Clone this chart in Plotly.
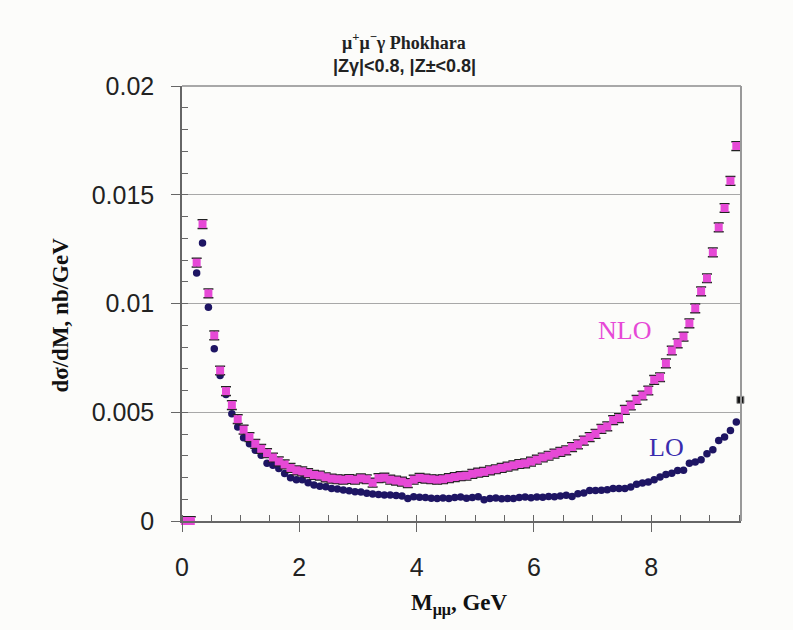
import numpy as np
import plotly.graph_objects as go

# Bin centres of the mu+mu- invariant mass, GeV (0.1 GeV bins)
mass_bins = np.round(np.arange(0.05, 9.5, 0.1), 2).tolist()

# dsigma/dM, nb/GeV, next-to-leading order
nlo = [
    0.0, 0.0, 0.01188, 0.01365, 0.01047, 0.00853, 0.00692, 0.00597, 0.00533, 0.00468,
    0.00420, 0.00386, 0.00355, 0.00332, 0.00312, 0.00292, 0.00274, 0.00260, 0.00244, 0.00233,
    0.00228, 0.00220, 0.00212, 0.00209, 0.00201, 0.00195, 0.00192, 0.00190, 0.00193, 0.00190,
    0.00196, 0.00192, 0.00176, 0.00197, 0.00199, 0.00190, 0.00186, 0.00181, 0.00174, 0.00190,
    0.00198, 0.00195, 0.00192, 0.00190, 0.00192, 0.00197, 0.00202, 0.00206, 0.00208, 0.00217,
    0.00222, 0.00226, 0.00233, 0.00238, 0.00244, 0.00250, 0.00256, 0.00262, 0.00265, 0.00273,
    0.00282, 0.00292, 0.00300, 0.00310, 0.00318, 0.00325, 0.00340, 0.00352, 0.00370, 0.00386,
    0.00401, 0.00424, 0.00435, 0.00464, 0.00473, 0.00511, 0.00531, 0.00557, 0.00577, 0.00600,
    0.00649, 0.00661, 0.00725, 0.00784, 0.00817, 0.00848, 0.00909, 0.00978, 0.01056, 0.01116,
    0.01235, 0.01350, 0.01439, 0.01564, 0.01724,
]

# dsigma/dM, nb/GeV, leading order
lo = [
    0.0, 0.0, 0.01140, 0.01278, 0.00983, 0.00792, 0.00669, 0.00582, 0.00493, 0.00432,
    0.00383, 0.00355, 0.00325, 0.00302, 0.00266, 0.00256, 0.00241, 0.00218, 0.00199, 0.00190,
    0.00190, 0.00176, 0.00165, 0.00160, 0.00158, 0.00150, 0.00147, 0.00143, 0.00139, 0.00134,
    0.00133, 0.00128, 0.00124, 0.00122, 0.00119, 0.00120, 0.00117, 0.00115, 0.00104, 0.00112,
    0.00109, 0.00108, 0.00105, 0.00103, 0.00106, 0.00104, 0.00108, 0.00110, 0.00105, 0.00108,
    0.00111, 0.00098, 0.00104, 0.00106, 0.00102, 0.00104, 0.00103, 0.00108, 0.00110, 0.00107,
    0.00110, 0.00109, 0.00113, 0.00112, 0.00115, 0.00118, 0.00113, 0.00125, 0.00129, 0.00140,
    0.00140, 0.00141, 0.00144, 0.00150, 0.00149, 0.00149, 0.00156, 0.00169, 0.00175, 0.00179,
    0.00190, 0.00202, 0.00214, 0.00220, 0.00232, 0.00233, 0.00266, 0.00271, 0.00282, 0.00309,
    0.00328, 0.00370, 0.00386, 0.00416, 0.00455,
]

# statistical error of the NLO points, nb/GeV
nlo_err = 0.0002

# stray marker at the right edge
edge_x = [9.52]
edge_y = [0.00557]

x_ticks = [0, 2, 4, 6, 8]
y_ticks = [0, 0.005, 0.01, 0.015, 0.02]

PINK = "#E649D6"
NAVY = "#1E1563"
BG = "#FCFCFA"

fig = go.Figure()

fig.add_trace(go.Scatter(
    x=mass_bins, y=lo, mode="markers", name="LO",
    marker=dict(symbol="circle", size=7.5, color=NAVY, line=dict(width=0)),
    cliponaxis=False,
))
fig.add_trace(go.Scatter(
    x=mass_bins, y=nlo, mode="markers", name="NLO",
    marker=dict(symbol="square", size=8, color=PINK, line=dict(width=0)),
    error_y=dict(type="constant", value=nlo_err, color="#222222", thickness=1.5, width=5),
    cliponaxis=False,
))
fig.add_trace(go.Scatter(
    x=edge_x, y=edge_y, mode="markers", name="edge",
    marker=dict(symbol="square", size=7, color="#111111", line=dict(width=1, color="#888888")),
    cliponaxis=False,
))

axis_font = dict(family="Liberation Sans, Arial, sans-serif", size=25, color="#222222")

fig.update_xaxes(
    range=[0, 9.53], tickvals=x_ticks, showgrid=False, zeroline=False,
    showline=True, linecolor="#666666", linewidth=1.5,
    ticks="outside", ticklen=9, tickwidth=1, tickcolor="#666666",
    minor=dict(dtick=0.5, ticks="inside", ticklen=6, tickwidth=1, tickcolor="#666666"),
    tickfont=axis_font, ticklabelstandoff=14,
)
fig.update_yaxes(
    range=[0, 0.02], tickvals=y_ticks, showgrid=True, gridcolor="#A8A8A8", gridwidth=1,
    zeroline=False, showline=True, linecolor="#666666", linewidth=1.5,
    ticks="outside", ticklen=9, tickwidth=1, tickcolor="#666666",
    minor=dict(dtick=0.001, ticks="inside", ticklen=6, tickwidth=1, tickcolor="#666666", showgrid=False),
    tickfont=axis_font, ticklabelstandoff=12,
)

# top and right frame
fig.add_shape(type="line", xref="paper", yref="paper", x0=0, x1=1, y0=1, y1=1,
              line=dict(color="#A8A8A8", width=2))
fig.add_shape(type="line", xref="paper", yref="paper", x0=1, x1=1, y0=0, y1=1,
              line=dict(color="#999999", width=2))

serif_bold = "Liberation Serif, Times New Roman, serif"

annotations = [
    dict(text="<b>μ<sup>+</sup>μ<sup>−</sup>γ Phokhara</b>", x=0.398, y=1.103,
         font=dict(family=serif_bold, size=18, color="#222222")),
    dict(text="<b>|Zγ|&lt;0.8, |Z±&lt;0.8|</b>", x=0.398, y=1.046,
         font=dict(family="Liberation Sans, Arial, sans-serif", size=18, color="#222222")),
    dict(text="<b>dσ/dM, nb/GeV</b>", x=-0.2176, y=0.473, textangle=-90,
         font=dict(family=serif_bold, size=23, color="#111111")),
    dict(text="<b>M<sub>μμ</sub>, GeV</b>", x=0.496, y=-0.192,
         font=dict(family=serif_bold, size=23, color="#111111")),
    dict(text="NLO", x=0.791, y=0.438,
         font=dict(family=serif_bold, size=26, color=PINK)),
    dict(text="LO", x=0.866, y=0.168,
         font=dict(family=serif_bold, size=26, color="#3A2CAE")),
]
for a in annotations:
    fig.add_annotation(xref="paper", yref="paper", showarrow=False,
                       xanchor="center", yanchor="middle", **a)

fig.update_layout(
    width=793, height=630,
    margin=dict(l=182, r=52, t=86, b=109),
    paper_bgcolor=BG, plot_bgcolor=BG,
    showlegend=False,
)

fig.write_html("out.html")
